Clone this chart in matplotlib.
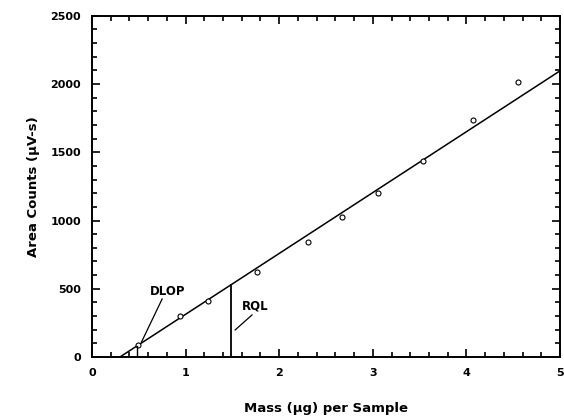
import matplotlib
matplotlib.use("Agg")
import matplotlib.pyplot as plt
import numpy as np

# data
mass = [0.49, 0.94, 1.24, 1.76, 2.31, 2.67, 3.06, 3.54, 4.07, 4.55]
counts = [88, 300, 410, 623, 843, 1026, 1202, 1437, 1738, 2016]
fit_x = [0.30, 5.0]
fit_y = [0, 2097]
dlop_x = 0.48
dlop_y = 80
rql_x = 1.485
rql_y = 529
x_ticks = [0, 1, 2, 3, 4, 5]
y_ticks = [0, 500, 1000, 1500, 2000, 2500]

fig = plt.figure(figsize=(5.64, 4.17), dpi=100)
ax = fig.add_axes([0.163, 0.144, 0.830, 0.818])

ax.plot(fit_x, fit_y, color="black", lw=1.1)
ax.plot(mass, counts, linestyle="none", marker="o", ms=3.6, mfc="white",
        mec="black", mew=0.8)
ax.plot([rql_x, rql_x], [0, rql_y], color="black", lw=1.3)
ax.plot([dlop_x, dlop_x], [0, dlop_y], color="black", lw=1.0)

ax.text(0.62, 477, "DLOP", fontsize=8.5, fontweight="bold", ha="left", va="center")
ax.plot([0.75, 0.53], [425, 110], color="black", lw=0.9)
ax.text(1.60, 372, "RQL", fontsize=8.5, fontweight="bold", ha="left", va="center")
ax.plot([1.71, 1.53], [308, 198], color="black", lw=0.9)

ax.set_xlim(0, 5)
ax.set_ylim(0, 2500)
ax.set_xticks(x_ticks)
ax.set_yticks(y_ticks)
ax.set_xticks(np.arange(0, 5.01, 0.2), minor=True)
ax.set_yticks(np.arange(0, 2501, 100), minor=True)
ax.tick_params(which="both", direction="in", top=True, right=True,
               labelsize=8, width=1.2, pad=8)
ax.tick_params(which="major", length=6)
ax.tick_params(which="minor", length=3.5)
for lab in ax.get_xticklabels() + ax.get_yticklabels():
    lab.set_fontweight("bold")
for s in ax.spines.values():
    s.set_linewidth(1.4)

ax.set_xlabel("Mass (µg) per Sample", fontsize=9.5, fontweight="bold", labelpad=17)
ax.set_ylabel("Area Counts (µV-s)", fontsize=9.5, fontweight="bold", labelpad=7)

fig.savefig("out.png", dpi=100)
